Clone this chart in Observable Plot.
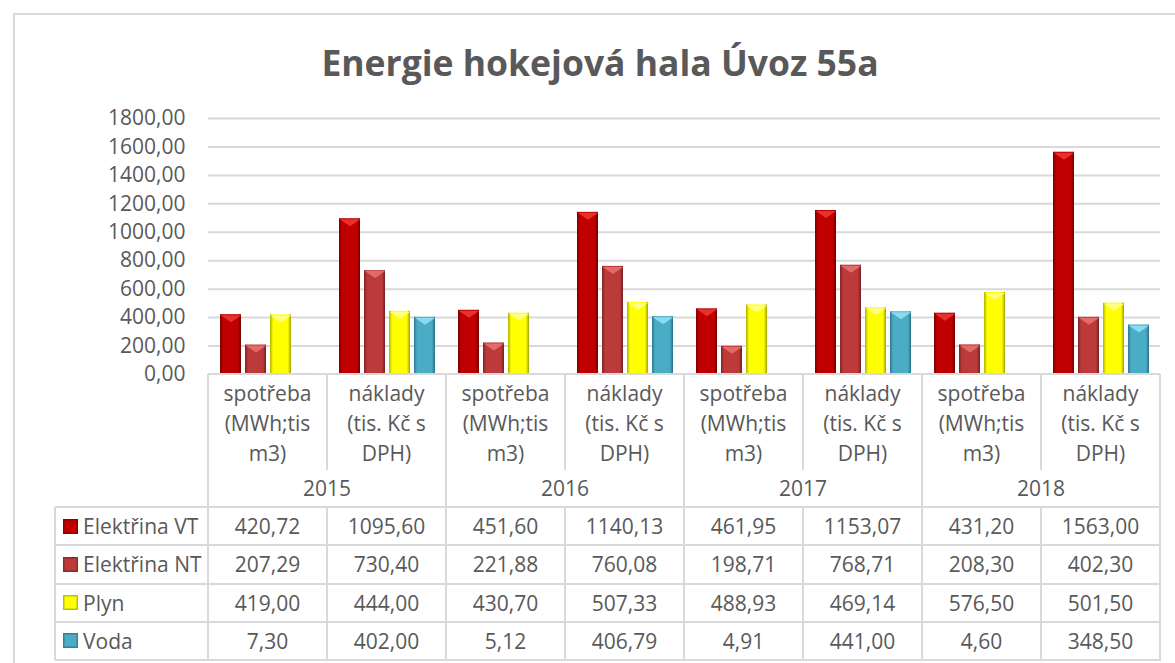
<!DOCTYPE html>
<html>
<head>
<meta charset="utf-8">
<script src="https://cdn.jsdelivr.net/npm/d3@7"></script>
<script src="https://cdn.jsdelivr.net/npm/@observablehq/plot@0.6"></script>
<style>
  html, body { margin: 0; padding: 0; background: #fff; }
  #wrap { position: relative; width: 1175px; height: 663px; overflow: hidden; font-family: "Open Sans", sans-serif; color: #595959; background: #fff; }
  #frame { position: absolute; left: 13px; top: 13px; width: 1200px; height: 700px; border-left: 2px solid #d9d9d9; border-top: 2px solid #d9d9d9; }
  #title { position: absolute; left: 0; width: 1200px; top: 38px; text-align: center; font-weight: 700; font-size: 35.5px; line-height: 48px; }
  #chart { position: absolute; left: 0; top: 0; }
  .ln { position: absolute; background: #d9d9d9; }
  .tx { position: absolute; font-size: 21px; text-align: center; white-space: nowrap; }
  .cat { position: absolute; font-size: 21px; text-align: center; line-height: 30px; white-space: normal; }
  .sw { position: absolute; width: 15px; height: 15px; }
</style>
</head>
<body>
<div id="wrap">
  <div id="frame"></div>
  <div id="chart"></div>
  <div id="title"></div>
  <div id="table"></div>
</div>
<svg width="0" height="0" style="position:absolute">
  <defs>
    <linearGradient id="gVT" x1="0" x2="1" y1="0" y2="0">
      <stop offset="0" stop-color="#7a0000"/><stop offset="0.15" stop-color="#c00000"/><stop offset="0.85" stop-color="#c00000"/><stop offset="1" stop-color="#6e0000"/>
    </linearGradient>
    <linearGradient id="gNT" x1="0" x2="1" y1="0" y2="0">
      <stop offset="0" stop-color="#7d2424"/><stop offset="0.15" stop-color="#bd3a3a"/><stop offset="0.85" stop-color="#bd3a3a"/><stop offset="1" stop-color="#722020"/>
    </linearGradient>
    <linearGradient id="gPL" x1="0" x2="1" y1="0" y2="0">
      <stop offset="0" stop-color="#b0b000"/><stop offset="0.15" stop-color="#ffff00"/><stop offset="0.85" stop-color="#ffff00"/><stop offset="1" stop-color="#a0a000"/>
    </linearGradient>
    <linearGradient id="gVO" x1="0" x2="1" y1="0" y2="0">
      <stop offset="0" stop-color="#2b7a90"/><stop offset="0.15" stop-color="#4bacc6"/><stop offset="0.85" stop-color="#4bacc6"/><stop offset="1" stop-color="#276f84"/>
    </linearGradient>
  </defs>
</svg>
<script>
// ---- data ----
const title = "Energie hokejová hala Úvoz 55a";
const years = ["2015", "2016", "2017", "2018"];
const measures = ["spotřeba (MWh;tis m3)", "náklady (tis. Kč s DPH)"];
const series = ["Elektřina VT", "Elektřina NT", "Plyn", "Voda"];
const elektrinaVT = [420.72, 1095.60, 451.60, 1140.13, 461.95, 1153.07, 431.20, 1563.00];
const elektrinaNT = [207.29, 730.40, 221.88, 760.08, 198.71, 768.71, 208.30, 402.30];
const plyn = [419.00, 444.00, 430.70, 507.33, 488.93, 469.14, 576.50, 501.50];
const voda = [7.30, 402.00, 5.12, 406.79, 4.91, 441.00, 4.60, 348.50];
const yTicks = [0, 200, 400, 600, 800, 1000, 1200, 1400, 1600, 1800];
const seriesFill = ["url(#gVT)", "url(#gNT)", "url(#gPL)", "url(#gVO)"];
const seriesTop = ["#e8302c", "#e46a68", "#ffff80", "#86dcf0"];
const seriesSwatch = ["#c00000", "#bd3a3a", "#ffff00", "#4bacc6"];

const values = [elektrinaVT, elektrinaNT, plyn, voda];
const cols = years.flatMap(y => measures.map(m => y + "|" + m));
const rows = [];
cols.forEach((c, i) => series.forEach((s, j) => rows.push({col: c, series: s, value: values[j][i]})));
const fmt = d => d.toFixed(2).replace(".", ",");

// ---- layout constants ----
const W = 1175, plotLeft = 208, plotRight = 1160, yTop = 118, yBase = 374;

document.getElementById("title").textContent = title;

// bevel chevron at the top of each bar (styling only)
const chevron = {draw(ctx) { ctx.moveTo(-10.3, 0); ctx.lineTo(10.3, 0); ctx.lineTo(0, 7); ctx.closePath(); }};

const chart = Plot.plot({
  width: W,
  height: 380,
  marginLeft: plotLeft,
  marginRight: W - plotRight,
  marginTop: yTop,
  marginBottom: 380 - yBase,
  style: {fontFamily: "Open Sans", fontSize: "21px", color: "#595959", background: "none", overflow: "visible"},
  facet: {data: rows, x: "col"},
  fx: {domain: cols, padding: 0, axis: null, label: null},
  x: {domain: series, paddingInner: 0.18, paddingOuter: 0.4, axis: null, label: null},
  y: {domain: [0, 1800], ticks: yTicks, tickSize: 0, tickPadding: 23, tickFormat: fmt, label: null},
  color: {domain: series, range: seriesFill},
  marks: [
    Plot.ruleY(yTicks.filter(d => d > 0), {stroke: "#d9d9d9", strokeWidth: 2}),
    Plot.barY(rows, {x: "series", y: "value", fill: "series"}),
    ...series.map((s, j) => Plot.dot(rows, {filter: d => d.series === s && d.value > 30, x: "series", y: "value", symbol: chevron, r: 5, fill: seriesTop[j], stroke: "none", dy: 0.5}))
  ]
});
document.getElementById("chart").appendChild(chart);

// ---- data table (below axis) ----
const tbl = document.getElementById("table");
const colW = (plotRight - plotLeft) / cols.length;
const tableLeft = 55;
const catBottom = 470, yearBottom = 507, rowH = (660 - yearBottom) / series.length;
function line(x, y, w, h) {
  const d = document.createElement("div");
  d.className = "ln";
  Object.assign(d.style, {left: (x - (w === 2 ? 1 : 0)) + "px", top: (y - (h === 2 ? 1 : 0)) + "px", width: w + "px", height: h + "px"});
  tbl.appendChild(d);
}
function text(str, cx, cy, cls, w) {
  const d = document.createElement("div");
  d.className = cls || "tx";
  d.textContent = str;
  tbl.appendChild(d);
  if (cls === "cat") {
    Object.assign(d.style, {left: (cx - w / 2) + "px", top: cy + "px", width: w + "px"});
  } else {
    d.style.top = (cy - 15) + "px";
    d.style.lineHeight = "30px";
    if (w === "left") { d.style.left = cx + "px"; d.style.textAlign = "left"; }
    else { d.style.left = (cx - 100) + "px"; d.style.width = "200px"; }
  }
  return d;
}
// horizontal lines
line(plotLeft, yBase, plotRight - plotLeft, 2);
for (let i = 0; i <= series.length; i++) line(tableLeft, yearBottom + i * rowH, plotRight - tableLeft + 1, 2);
// vertical lines
line(tableLeft, yearBottom, 2, 660 - yearBottom);
for (let i = 0; i <= cols.length; i++) {
  const x = plotLeft + i * colW;
  if (i % 2 === 0) line(x, yBase, 2, 660 - yBase);
  else { line(x, yBase, 2, catBottom - yBase); line(x, yearBottom, 2, 660 - yearBottom); }
}
// category labels
cols.forEach((c, i) => text(c.split("|")[1], plotLeft + (i + 0.5) * colW, 378, "cat", 108));
// years
years.forEach((y, i) => text(y, plotLeft + (i + 1) * 2 * colW - colW, 488));
// rows
series.forEach((s, j) => {
  const cy = yearBottom + (j + 0.5) * rowH;
  const sw = document.createElement("div");
  sw.className = "sw";
  Object.assign(sw.style, {left: "63px", top: (cy - 7.5) + "px", background: seriesSwatch[j], boxShadow: "inset 0 0 0 1.5px rgba(0,0,0,0.25)"});
  tbl.appendChild(sw);
  text(s, 83, cy, "tx", "left");
  values[j].forEach((v, i) => text(fmt(v), plotLeft + (i + 0.5) * colW, cy));
});
</script>
</body>
</html>
